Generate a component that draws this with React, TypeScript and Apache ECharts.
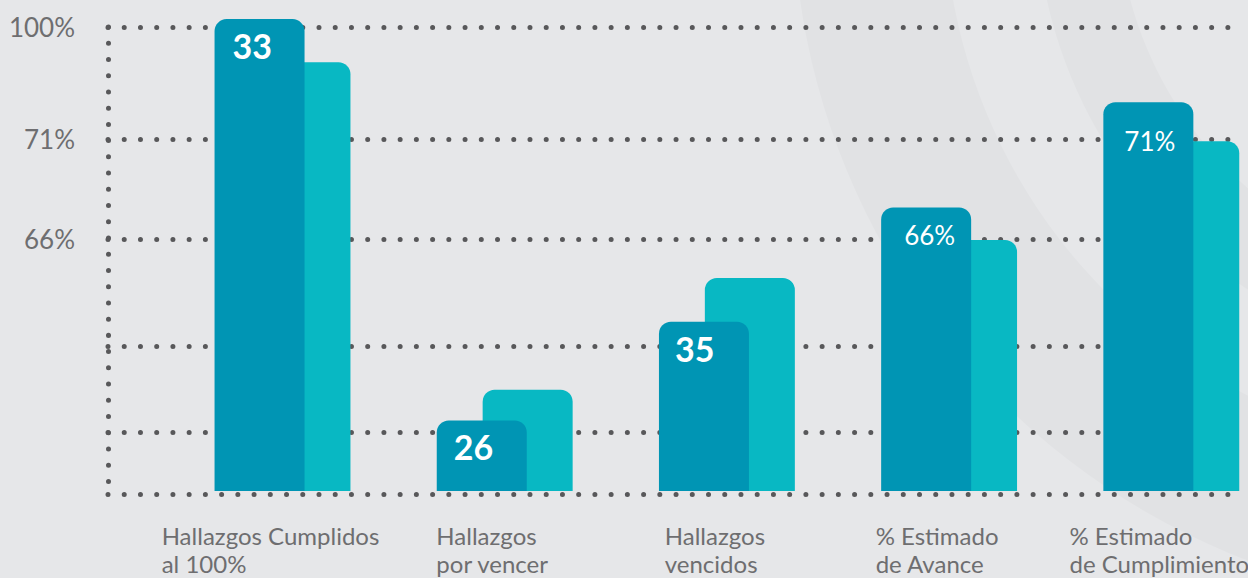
import React, { useEffect, useRef } from "react";
import * as echarts from "echarts";

// ---- data ----
const categories = [
  "Hallazgos Cumplidos\nal 100%",
  "Hallazgos\npor vencer",
  "Hallazgos\nvencidos",
  "% Estimado\nde Avance",
  "% Estimado\nde Cumplimiento",
];
const darkValues = [101.7, 15.2, 36.5, 61.1, 83.8];
const lightValues = [92.4, 21.8, 45.9, 54.1, 75.4];
const darkLabels = ["33", "26", "35", "66%", "71%"];
const gridLineValues = [100, 75.9, 54.3, 31.25, 12.7];
const yTickValues = [100, 75.9, 54.3];
const yTickLabels = ["100%", "71%", "66%"];
const baselineValue = -0.65;

// label placement inside the dark bars (style, not data)
const labelOffsetX = [18, 17, 16, 23, 21];
const labelOffsetY = [26, 26, 27, 28, 39];

const FONT = "Lato, 'Open Sans', 'DejaVu Sans', sans-serif";
const Y_MIN = -1;
const Y_MAX = 104;
const GRID_TOP = 8.44;
const GRID_BOTTOM = 82.36;
const TEXT_COLOR = "#6e6e70";
const DOT_COLOR = "#58585a";
const CHART_W = 1300;

export default function App() {
  const ref = useRef<HTMLDivElement>(null);

  useEffect(() => {
    if (!ref.current) return;
    const chart = echarts.init(ref.current, undefined, { renderer: "svg" });

    const lineData: any[] = gridLineValues.map((v) => [
      { coord: [0, v] },
      { coord: [1, v] },
    ]);
    lineData.push([{ coord: [0, baselineValue] }, { coord: [1, baselineValue] }]);
    lineData.push([{ coord: [0, gridLineValues[0]] }, { coord: [0, baselineValue] }]);

    const option: any = {
      animation: false,
      backgroundColor: "#e6e7e9",
      graphic: {
        elements: [
          {
            type: "ring",
            silent: true,
            z: -10,
            shape: { cx: 1500, cy: -100, r: 707, r0: 556 },
            style: { fill: "#e1e2e4" },
          },
          {
            type: "ring",
            silent: true,
            z: -10,
            shape: { cx: 1500, cy: -100, r: 464, r0: 383 },
            style: { fill: "#e1e2e4" },
          },
        ],
      },
      grid: [
        { left: 108, right: CHART_W - 1228.5, top: GRID_TOP, bottom: GRID_BOTTOM },
        { left: 171.4, width: 1111, top: GRID_TOP, bottom: GRID_BOTTOM },
      ],
      xAxis: [
        { gridIndex: 0, type: "value", min: 0, max: 1, show: false },
        {
          gridIndex: 1,
          type: "category",
          data: categories,
          axisLine: { show: false, onZero: false },
          axisTick: { show: false },
          splitLine: { show: false },
          axisLabel: {
            interval: 0,
            margin: 26,
            padding: [0, 24, 0, 0],
            formatter: (v: string) =>
              v
                .split("\n")
                .map((s) => `{a|${s}}`)
                .join("\n"),
            rich: {
              a: {
                align: "left",
                fontFamily: FONT,
                fontSize: 24,
                lineHeight: 28,
                color: TEXT_COLOR,
              },
            },
          },
        },
      ],
      yAxis: [
        {
          gridIndex: 0,
          type: "value",
          min: Y_MIN,
          max: Y_MAX,
          axisLine: { show: false },
          axisTick: { show: false },
          splitLine: { show: false },
          axisLabel: {
            customValues: yTickValues,
            margin: 33,
            fontFamily: FONT,
            fontSize: 26,
            color: TEXT_COLOR,
            verticalAlign: "middle",
            padding: [8, 0, 0, 0],
            formatter: (v: number) => {
              const i = yTickValues.findIndex((t) => Math.abs(t - v) < 0.01);
              return i >= 0 ? yTickLabels[i] : "";
            },
          },
        },
        { gridIndex: 1, type: "value", min: Y_MIN, max: Y_MAX, show: false },
      ],
      series: [
        {
          type: "line",
          xAxisIndex: 0,
          yAxisIndex: 0,
          data: [],
          silent: true,
          markLine: {
            silent: true,
            symbol: "none",
            z: 1,
            animation: false,
            label: { show: false },
            emphasis: { disabled: true },
            lineStyle: {
              color: DOT_COLOR,
              width: 5,
              type: [0.01, 16.22],
              cap: "round",
            },
            data: lineData,
          },
        },
        {
          name: "dark",
          type: "bar",
          xAxisIndex: 1,
          yAxisIndex: 1,
          z: 4,
          barWidth: 90,
          barGap: "-49%",
          emphasis: { disabled: true },
          itemStyle: { color: "#0095b4", borderRadius: [12, 12, 0, 0] },
          label: {
            show: true,
            align: "left",
            verticalAlign: "middle",
            formatter: (p: any) => {
              const t = darkLabels[p.dataIndex];
              return t.endsWith("%") ? `{p|${t}}` : `{n|${t}}`;
            },
            rich: {
              n: {
                fontFamily: FONT,
                fontSize: 34,
                fontWeight: "bold",
                color: "#ffffff",
              },
              p: { fontFamily: FONT, fontSize: 26, color: "#ffffff" },
            },
          },
          data: darkValues.map((v, i) => ({
            value: v,
            label: { position: [labelOffsetX[i], labelOffsetY[i]] },
          })),
        },
        {
          name: "light",
          type: "bar",
          xAxisIndex: 1,
          yAxisIndex: 1,
          z: 3,
          barWidth: 90,
          barGap: "-49%",
          emphasis: { disabled: true },
          itemStyle: { color: "#08b8c3", borderRadius: [12, 12, 0, 0] },
          data: lightValues,
        },
      ],
    };

    chart.setOption(option);
    return () => chart.dispose();
  }, []);

  return (
    <div
      style={{
        position: "absolute",
        left: 0,
        top: 0,
        width: 1248,
        height: 578,
        overflow: "hidden",
      }}
    >
      <div ref={ref} style={{ width: CHART_W, height: 578 }} />
    </div>
  );
}
